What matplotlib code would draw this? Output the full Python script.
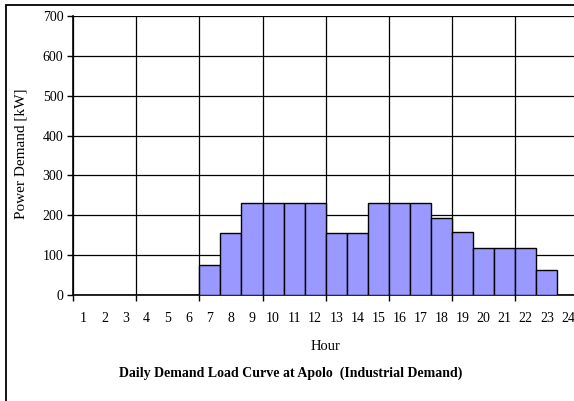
import numpy as np
import matplotlib
matplotlib.use('Agg')
import matplotlib.pyplot as plt
from matplotlib.patches import Rectangle

# data
hours = list(range(1, 25))
demand = [0, 0, 0, 0, 0, 0, 75, 155, 232, 232, 232, 232,
          155, 155, 232, 232, 232, 192, 158, 118, 118, 118, 62, 0]
yticks = [0, 100, 200, 300, 400, 500, 600, 700]

plt.rcParams['font.family'] = ['Liberation Serif', 'DejaVu Serif']

W, H = 574, 401
fig = plt.figure(figsize=(W / 100, H / 100), dpi=100)
# plot area: left edge 73px, 21.06px per hour, runs off the right side
ax = fig.add_axes([73 / W, (H - 295) / H, 24 * 21.06 / W, 279 / H])

ax.bar(hours, demand, width=1.0, color='#9999FF', edgecolor='black',
       linewidth=1.0, zorder=3)

ax.set_xlim(0.5, 24.5)
ax.set_ylim(0, 700)

# gridlines every 3 hours and every 100 kW
ax.set_xticks(np.arange(0.5, 25, 3))
ax.set_xticklabels([])
ax.set_xticks(hours, minor=True)
ax.set_xticklabels([str(h) for h in hours], minor=True)
ax.tick_params(axis='x', which='major', direction='out', length=4,
               width=1, color='black')
ax.tick_params(axis='x', which='minor', length=0, pad=12, labelsize=10)
ax.set_yticks(yticks)
ax.tick_params(axis='y', direction='out', length=4, width=1, labelsize=10,
               pad=3)
ax.grid(True, which='major', color='black', linewidth=0.9, zorder=0)

for s in ['top', 'right']:
    ax.spines[s].set_visible(False)
ax.spines['left'].set_linewidth(1.2)
ax.spines['bottom'].set_linewidth(1.2)

fig.text(21 / W, 1 - 154 / H, 'Power Demand [kW]', rotation=90,
         ha='center', va='center', fontsize=11)
fig.text(326 / W, 1 - 347 / H, 'Hour', ha='center', va='center',
         fontsize=10.5)
fig.text(291 / W, 1 - 373 / H,
         'Daily Demand Load Curve at Apolo  (Industrial Demand)',
         ha='center', va='center', fontsize=10, fontweight='bold')

# outer chart frame, cropped at right and bottom
fig.add_artist(Rectangle((5.5 / W, -0.5), 2, 1.5 - 4.5 / H,
                         transform=fig.transFigure, fill=False,
                         edgecolor='black', linewidth=1.3))

fig.savefig('out.png', dpi=100)
